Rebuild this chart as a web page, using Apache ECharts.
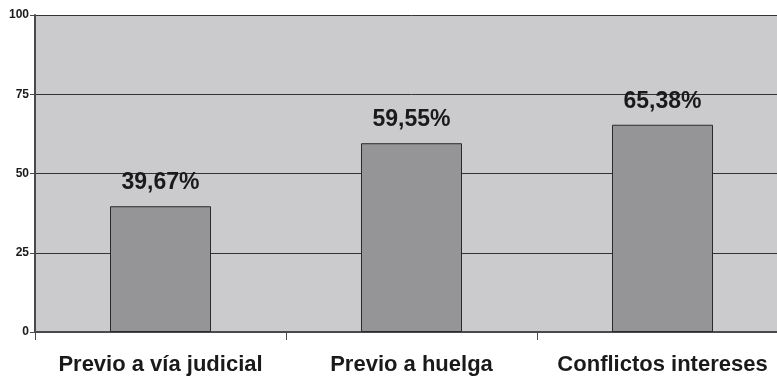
<!DOCTYPE html>
<html>
<head>
<meta charset="utf-8">
<script src="https://cdn.jsdelivr.net/npm/echarts@6/dist/echarts.min.js"></script>
<style>
  html, body { margin: 0; padding: 0; background: #ffffff; overflow: hidden; width: 777px; height: 379px; }
  /* plot area runs past the right edge of the page, so the chart is wider than the view */
  #chart { width: 788px; height: 379px; }
</style>
</head>
<body>
<div id="chart"></div>
<script>
// Categories and percentage values shown on the bars
const categories = ['Previo a vía judicial', 'Previo a huelga', 'Conflictos intereses'];
const percentages = [39.67, 59.55, 65.38];
const yTicks = [0, 25, 50, 75, 100];

const chart = echarts.init(document.getElementById('chart'), null, { renderer: 'canvas' });

chart.setOption({
  animation: false,
  backgroundColor: '#ffffff',
  grid: {
    show: true,
    left: 35,
    right: 0,
    top: 15,
    height: 317,
    backgroundColor: '#cbcbcd',
    borderWidth: 0
  },
  xAxis: {
    type: 'category',
    data: categories,
    boundaryGap: true,
    axisLine: { show: true, lineStyle: { color: '#4a4a4a', width: 2 } },
    axisTick: { show: true, length: 8, lineStyle: { color: '#4a4a4a', width: 1 } },
    axisLabel: {
      interval: 0,
      hideOverlap: false,
      margin: 22,
      color: '#1a1a1a',
      fontFamily: 'Liberation Sans, Arial, sans-serif',
      fontWeight: 'bold',
      fontSize: 22
    },
    splitLine: { show: false }
  },
  yAxis: {
    type: 'value',
    min: yTicks[0],
    max: yTicks[yTicks.length - 1],
    interval: 25,
    axisLine: { show: true, lineStyle: { color: '#4a4a4a', width: 2 } },
    axisTick: { show: true, inside: false, length: 5, lineStyle: { color: '#4a4a4a' } },
    axisLabel: {
      margin: 6,
      color: '#1a1a1a',
      fontFamily: 'Liberation Sans, Arial, sans-serif',
      fontWeight: 'bold',
      fontSize: 12
    },
    splitLine: { show: true, lineStyle: { color: '#333333', width: 1 } }
  },
  series: [{
    type: 'bar',
    data: percentages,
    barWidth: 101,
    itemStyle: { color: '#959598', borderColor: '#2a2a2a', borderWidth: 1 },
    label: {
      show: true,
      position: 'top',
      distance: 12,
      color: '#1a1a1a',
      fontFamily: 'Liberation Sans, Arial, sans-serif',
      fontWeight: 'bold',
      fontSize: 23,
      formatter: p => p.value.toFixed(2).replace('.', ',') + '%'
    }
  }]
});
</script>
</body>
</html>
